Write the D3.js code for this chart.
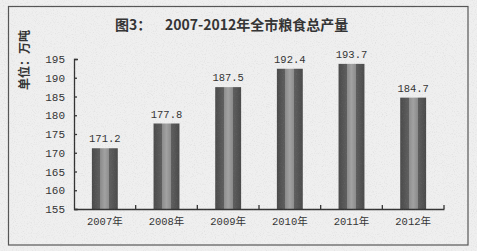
<!DOCTYPE html>
<html>
<head>
<meta charset="utf-8">
<script src="https://cdn.jsdelivr.net/npm/d3@7"></script>
<style>
  body { margin: 0; background: #eeeeee; }
  svg { display: block; }
</style>
</head>
<body>
<div id="chart"></div>
<script>
// data
var years = ["2007年", "2008年", "2009年", "2010年", "2011年", "2012年"];
var output = [171.2, 177.8, 187.5, 192.4, 193.7, 184.7];
var yTicks = [155, 160, 165, 170, 175, 180, 185, 190, 195];

var width = 477, height = 251;
var numFont = "'Liberation Mono', 'Noto Sans CJK SC', monospace";

var svg = d3.select("#chart").append("svg")
	.attr("width", width)
	.attr("height", height);

var defs = svg.append("defs");

// bar fill: dark / light / dark vertical stripes
var grad = defs.append("linearGradient")
	.attr("id", "barGrad")
	.attr("x1", "0%").attr("x2", "100%")
	.attr("y1", "0%").attr("y2", "0%");
[["0%", "#4a4a4a"], ["32%", "#5e5e5e"], ["33%", "#8c8c8c"], ["50%", "#a2a2a2"],
 ["67%", "#8c8c8c"], ["68%", "#5e5e5e"], ["100%", "#4a4a4a"]].forEach(function(s) {
	grad.append("stop").attr("offset", s[0]).attr("stop-color", s[1]);
});

// paper grain
var grain = defs.append("filter").attr("id", "grain")
	.attr("x", 0).attr("y", 0).attr("width", "100%").attr("height", "100%");
grain.append("feTurbulence")
	.attr("type", "fractalNoise")
	.attr("baseFrequency", 0.9)
	.attr("numOctaves", 2)
	.attr("seed", 3);
grain.append("feColorMatrix")
	.attr("type", "matrix")
	.attr("values", "0 0 0 0 0.3  0 0 0 0 0.3  0 0 0 0 0.3  0 0 0 -1.1 0.55");

svg.append("rect")
	.attr("width", width).attr("height", height)
	.attr("fill", "#efefef");

// frame
svg.append("rect")
	.attr("x", 8.5).attr("y", 6.5)
	.attr("width", 459.5).attr("height", 238.5)
	.attr("fill", "none")
	.attr("stroke", "#555")
	.attr("stroke-width", 1.2);

var plotLeft = 74, plotRight = 444, plotTop = 59, plotBottom = 209;

var x = d3.scaleBand()
	.domain(years)
	.range([plotLeft, plotRight])
	.padding(0);

var y = d3.scaleLinear()
	.domain([155, 195])
	.range([plotBottom, plotTop]);

var barW = x.bandwidth() * 0.42;

// bars
svg.append("g").selectAll("rect")
	.data(output)
	.enter().append("rect")
	.attr("x", function(d, i) { return x(years[i]) + (x.bandwidth() - barW) / 2; })
	.attr("y", function(d) { return y(d); })
	.attr("width", barW)
	.attr("height", function(d) { return plotBottom - y(d); })
	.attr("fill", "url(#barGrad)");

// value labels
svg.append("g").selectAll("text")
	.data(output)
	.enter().append("text")
	.attr("x", function(d, i) { return x(years[i]) + x.bandwidth() / 2; })
	.attr("y", function(d) { return y(d) - 6; })
	.attr("text-anchor", "middle")
	.attr("font-family", numFont)
	.attr("font-size", "10.5px")
	.attr("fill", "#333")
	.text(function(d) { return d.toFixed(1); });

// y axis, ticks pointing inward
var yAxis = d3.axisLeft(y)
	.tickValues(yTicks)
	.tickSize(-3)
	.tickSizeOuter(-4)
	.tickPadding(9);

var gy = svg.append("g")
	.attr("transform", "translate(" + plotLeft + ",0)")
	.call(yAxis);
gy.selectAll("path, line").attr("stroke", "#333").attr("stroke-width", 1.3);
gy.selectAll("text")
	.attr("font-family", numFont)
	.attr("font-size", "11px")
	.attr("fill", "#333");

// x axis
var xAxis = d3.axisBottom(x).tickSize(0).tickSizeOuter(0).tickPadding(9);
var gx = svg.append("g")
	.attr("transform", "translate(0," + plotBottom + ")")
	.call(xAxis);
gx.select(".domain").attr("stroke", "#333").attr("stroke-width", 1.3);
gx.selectAll("text")
	.attr("font-family", numFont)
	.attr("font-size", "10.5px")
	.attr("fill", "#333");

// category boundary ticks
var bounds = years.slice(1).map(function(d) { return x(d); }).concat([plotRight]);
svg.append("g").selectAll("line")
	.data(bounds)
	.enter().append("line")
	.attr("x1", function(d) { return d; })
	.attr("x2", function(d) { return d; })
	.attr("y1", plotBottom)
	.attr("y2", plotBottom - 4)
	.attr("stroke", "#333")
	.attr("stroke-width", 1.3);

// title
var title = svg.append("text")
	.attr("x", 115)
	.attr("y", 30)
	.attr("font-family", "'Noto Sans CJK SC', sans-serif")
	.attr("font-weight", "bold")
	.attr("font-size", "14px")
	.attr("fill", "#333");
title.append("tspan").text("图3：");
title.append("tspan").attr("x", 165).text("2007-2012年全市粮食总产量");

// unit label
svg.append("text")
	.attr("transform", "translate(29,60) rotate(-90)")
	.attr("text-anchor", "middle")
	.attr("font-family", "'Noto Sans CJK SC', sans-serif")
	.attr("font-weight", "bold")
	.attr("font-size", "12px")
	.attr("fill", "#333")
	.text("单位：万吨");

// grain over everything
svg.append("rect")
	.attr("width", width).attr("height", height)
	.attr("filter", "url(#grain)")
	.attr("opacity", 0.35)
	.style("pointer-events", "none");
</script>
</body>
</html>
